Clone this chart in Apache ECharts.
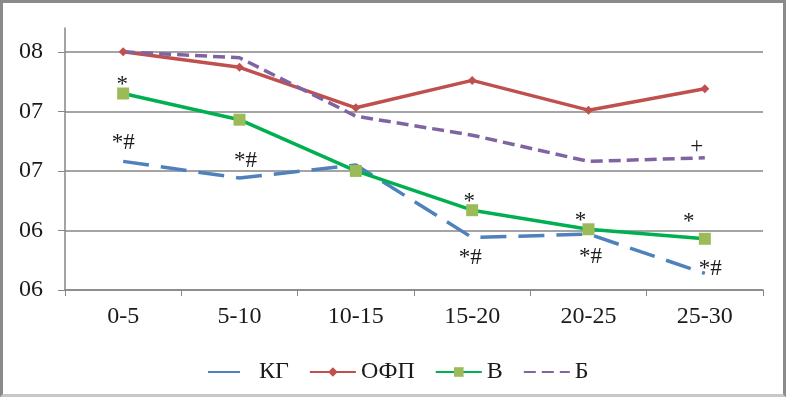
<!DOCTYPE html>
<html>
<head>
<meta charset="utf-8">
<script src="https://cdn.jsdelivr.net/npm/echarts@6/dist/echarts.min.js"></script>
<style>
	html, body { margin: 0; padding: 0; background: #fff; }
	#chart { width: 786px; height: 397px; box-sizing: border-box; border: 3px solid #8a8a8a; border-bottom-color: #c8c8c8; }
</style>
</head>
<body>
<div id="chart"></div>
<script>
// возрастные группы
var categories = ['0-5', '5-10', '10-15', '15-20', '20-25', '25-30'];
var yTickValues = [60, 65, 70, 75, 80];
var yTickLabels = ['06', '06', '07', '07', '08'];

var kgData = [70.8, 69.4, 70.5, 64.4, 64.7, 61.4];
var ofpData = [80.0, 78.7, 75.3, 77.6, 75.1, 76.9];
var vData = [76.5, 74.3, 70.0, 66.7, 65.1, 64.3];
var bData = [80.0, 79.5, 74.6, 73.0, 70.8, 71.1];

// значки достоверности
var kgNotes = ['*#', '*#', '', '*#', '*#', '*#'];
var vNotes = ['*', '', '', '*', '*', '*'];
var bNotes = ['', '', '', '', '', '+'];

var serif = '"Liberation Serif", "Times New Roman", serif';

/* метки над/под точками */
function withNotes(values, notes, place) {
	return values.map(function (v, i) {
		if (!notes[i]) return v;
		var p = place[i];
		return {
			value: v,
			label: {
				show: true,
				formatter: notes[i],
				position: p[0],
				distance: 0,
				offset: [p[1], p[2]],
				fontFamily: serif,
				fontSize: 23,
				color: '#1a1a1a'
			}
		};
	});
}

var kgPlace = [['top', 0, -6], ['top', 6, -5], null, ['bottom', -2, 8], ['bottom', 2, 10], ['right', -7, -4]];
var vPlace = [['top', -1, 9], null, null, ['top', -3, 9], ['top', -8, 9], ['top', -16, 1]];
var bPlace = [null, null, null, null, null, ['top', -8, 2]];

var chart = echarts.init(document.getElementById('chart'));
var option = {
	animation: false,
	grid: { left: 62, right: 20, top: 25, bottom: 104 },
	legend: {
		left: 199,
		top: 352,
		itemWidth: 46,
		itemHeight: 12,
		itemGap: 20,
		textStyle: { fontFamily: serif, fontSize: 24, color: '#1a1a1a' },
		data: [
			{ name: 'КГ', lineStyle: { type: [32, 14] } },
			'ОФП',
			'В',
			'Б'
		]
	},
	xAxis: {
		type: 'category',
		data: categories,
		boundaryGap: true,
		axisLine: { lineStyle: { color: '#868686', width: 1.5 } },
		axisTick: { show: true, length: 6, inside: false, lineStyle: { color: '#868686' } },
		axisLabel: { margin: 15, fontFamily: serif, fontSize: 24, color: '#1a1a1a' }
	},
	yAxis: {
		type: 'value',
		min: 60,
		max: 82,
		interval: 5,
		axisLine: { show: true, lineStyle: { color: '#868686', width: 1.5 } },
		axisTick: { show: true, length: 7, customValues: yTickValues, lineStyle: { color: '#868686' } },
		axisLabel: {
			customValues: yTickValues,
			margin: 22,
			fontFamily: serif,
			fontSize: 24,
			color: '#1a1a1a',
			formatter: function (v) {
				return yTickLabels[yTickValues.indexOf(v)];
			}
		},
		splitLine: {
			show: true,
			lineStyle: { color: ['#868686', '#868686', '#868686', '#868686', '#868686', 'rgba(0,0,0,0)'], width: 1.5 }
		}
	},
	series: [
		{
			name: 'КГ',
			type: 'line',
			symbol: 'circle',
			symbolSize: 2,
			lineStyle: { color: '#4f81bd', width: 3.5, type: [26, 12] },
			itemStyle: { color: 'rgba(0,0,0,0)' },
			data: withNotes(kgData, kgNotes, kgPlace)
		},
		{
			name: 'ОФП',
			type: 'line',
			symbol: 'diamond',
			symbolSize: 9,
			lineStyle: { color: '#c0504d', width: 3.5 },
			itemStyle: { color: '#c0504d' },
			data: ofpData
		},
		{
			name: 'В',
			type: 'line',
			symbol: 'rect',
			symbolSize: 12,
			lineStyle: { color: '#00b050', width: 3.5 },
			itemStyle: { color: '#9bbb59' },
			z: 3,
			data: withNotes(vData, vNotes, vPlace)
		},
		{
			name: 'Б',
			type: 'line',
			symbol: 'circle',
			symbolSize: 2,
			lineStyle: { color: '#8064a2', width: 3.5, type: [12, 6] },
			itemStyle: { color: 'rgba(0,0,0,0)' },
			data: withNotes(bData, bNotes, bPlace)
		}
	]
};
chart.setOption(option);
</script>
</body>
</html>
